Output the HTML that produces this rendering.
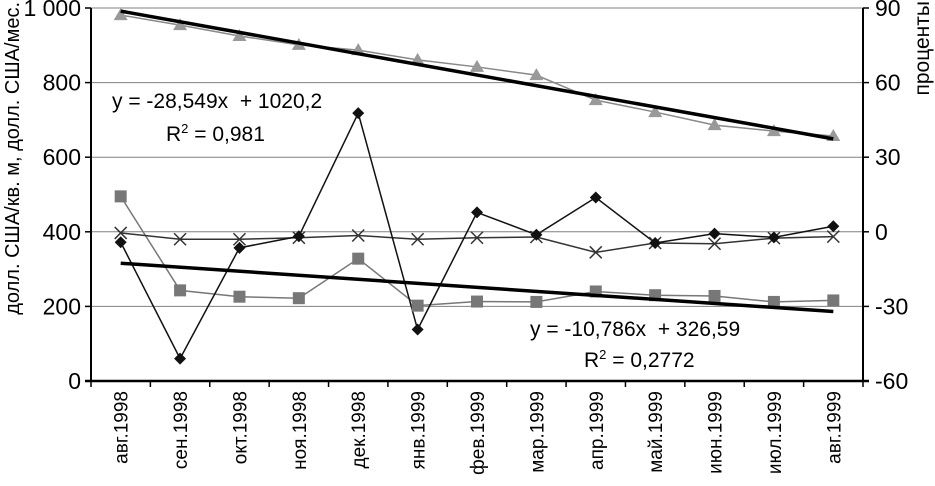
<!DOCTYPE html>
<html><head><meta charset="utf-8"><style>
body{margin:0;background:#fff}
svg text{font-family:"Liberation Sans",Arial,sans-serif;fill:#000}
</style></head><body>
<svg id="chart" width="935" height="481" viewBox="0 0 935 481" xmlns="http://www.w3.org/2000/svg">
<g id="grid"></g>
<g id="marks"></g>
<g id="axes"></g>
<text transform="translate(19,2) rotate(-90)" text-anchor="end" style="font-size:20px">долл. США/кв. м, долл. США/мес.</text>
<text transform="translate(929,1) rotate(-90)" text-anchor="end" style="font-size:21px">проценты</text>
<text x="112" y="108" style="font-size:21px" xml:space="preserve">y = -28,549x  + 1020,2</text>
<text x="166" y="141" style="font-size:21px">R<tspan dy="-8" style="font-size:13px">2</tspan><tspan dy="8"> = 0,981</tspan></text>
<text x="530" y="336" style="font-size:21px" xml:space="preserve">y = -10,786x  + 326,59</text>
<text x="584" y="367" style="font-size:21px">R<tspan dy="-8" style="font-size:13px">2</tspan><tspan dy="8"> = 0,2772</tspan></text>
</svg>
<script>
const categories=["авг.1998","сен.1998","окт.1998","ноя.1998","дек.1998","янв.1999","фев.1999","мар.1999","апр.1999","май.1999","июн.1999","июл.1999","авг.1999"];
const triangleValues=[981,954,925,901,887,861,842,820,753,721,686,670,657];
const squareValues=[495,243,226,222,328,202,213,212,240,230,228,212,216];
const diamondValues=[372,60,357,388,718,138,452,392,492,370,395,385,415];
const crossValues=[397,380,380,384,390,380,384,386,345,370,368,383,387];
const leftTicks=[0,200,400,600,800,1000];
const leftTickLabels=["0","200","400","600","800","1 000"];
const rightTicks=[-60,-30,0,30,60,90];
const trend1=[-28.549,1020.2];
const trend2=[-10.786,326.59];

const X0=91,X1=863,Y0=381,Y1=8;
const band=(X1-X0)/categories.length;
const x=i=>X0+band*(i+0.5);
const y=v=>Y0-(v-0)/(1000-0)*(Y0-Y1);
const yr=v=>Y0-(v+60)/150*(Y0-Y1);
const NS="http://www.w3.org/2000/svg";
function mk(tag,attrs,parent){const e=document.createElementNS(NS,tag);for(const k in attrs)e.setAttribute(k,attrs[k]);parent.appendChild(e);return e;}
const grid=document.getElementById('grid'),marks=document.getElementById('marks'),axes=document.getElementById('axes');
leftTicks.forEach((t,i)=>{
  if(t>0){const g=mk('line',{x1:X0,x2:X1,y1:y(t),y2:y(t),stroke:'#808080','stroke-width':1},grid);
  
  }
  const l=mk('text',{x:X0-10,y:y(t)+8,'text-anchor':'end',style:'font-size:23px'},axes);l.textContent=leftTickLabels[i];
  
  
  mk('line',{x1:X0-6,x2:X0,y1:y(t),y2:y(t),stroke:'#000','stroke-width':1.5},axes);
});
rightTicks.forEach(t=>{
  const l=mk('text',{x:X1+12,y:yr(t)+8,style:'font-size:23px'},axes);l.textContent=t;
  
  
  mk('line',{x1:X1,x2:X1+6,y1:yr(t),y2:yr(t),stroke:'#000','stroke-width':1.5},axes);
});
mk('line',{x1:X0,x2:X0,y1:Y1,y2:Y0,stroke:'#000','stroke-width':2},axes);
mk('line',{x1:X1,x2:X1,y1:Y1,y2:Y0,stroke:'#000','stroke-width':2},axes);
mk('line',{x1:X0-6,x2:X1+6,y1:Y0,y2:Y0,stroke:'#000','stroke-width':2.5},axes);
for(let i=0;i<=categories.length;i++)mk('line',{x1:X0+band*i,x2:X0+band*i,y1:Y0,y2:Y0+6,stroke:'#000','stroke-width':1.5},axes);
categories.forEach((c,i)=>{
  const t=mk('text',{transform:`translate(${x(i)+7},${Y0+10}) rotate(-90)`,'text-anchor':'end',style:'font-size:19px'},axes);t.textContent=c;
  
  
});
function series(vals,color,w,name){
  const p=mk('polyline',{points:vals.map((v,i)=>x(i)+','+y(v)).join(' '),fill:'none',stroke:color,'stroke-width':w},marks);
  
  
}
series(triangleValues,'#888',1.5,'triangle-series');
series(squareValues,'#777',1.5,'square-series');
series(crossValues,'#333',1.5,'cross-series');
series(diamondValues,'#111',1.5,'diamond-series');
triangleValues.forEach((v,i)=>{const cx=x(i),cy=y(v);
  const m=mk('polygon',{points:`${cx},${cy-7} ${cx-7},${cy+5} ${cx+7},${cy+5}`,fill:'#999'},marks);
  
  });
squareValues.forEach((v,i)=>{
  const m=mk('rect',{x:x(i)-6,y:y(v)-6,width:12,height:12,fill:'#777'},marks);
  
  });
crossValues.forEach((v,i)=>{const cx=x(i),cy=y(v);
  const m=mk('path',{d:`M${cx-6},${cy-6}L${cx+6},${cy+6}M${cx-6},${cy+6}L${cx+6},${cy-6}`,stroke:'#333','stroke-width':1.5},marks);
  
  });
diamondValues.forEach((v,i)=>{const cx=x(i),cy=y(v);
  const m=mk('polygon',{points:`${cx},${cy-6} ${cx+6},${cy} ${cx},${cy+6} ${cx-6},${cy}`,fill:'#111'},marks);
  
  });
[trend1,trend2].forEach((t,k)=>{
  const n=categories.length;
  const l=mk('line',{x1:x(0),y1:y(t[0]*1+t[1]),x2:x(n-1),y2:y(t[0]*n+t[1]),stroke:'#000','stroke-width':3.5},marks);
  
  
});
</script>
</body></html>
